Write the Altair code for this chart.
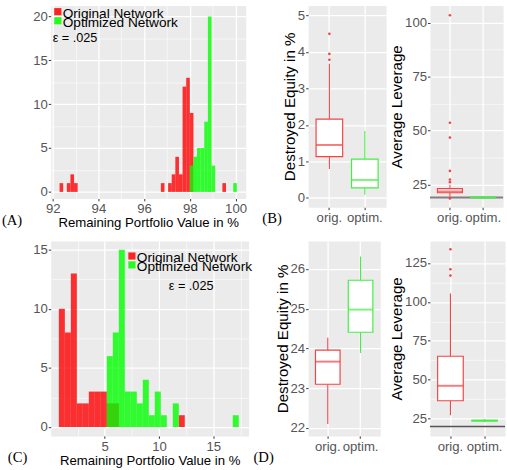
import altair as alt
import pandas as pd

SANS = "Liberation Sans"
SERIF = "Liberation Serif"

# ---------------- data ----------------
SERIES = ["Original Network", "Optimized Network"]
GROUPS = ["orig.", "optim."]
EPS_LABEL = "ε = .025"
HIST_X_TITLE = "Remaining Portfolio Value in %"
EQUITY_TITLE = "Destroyed Equity in %"
LEVERAGE_TITLE = "Average Leverage"
TAGS = ["(A)", "(B)", "(C)", "(D)"]

# (A) histogram: bin left edges and counts
A_BIN_WIDTH = 0.1583
a_orig_left = [92.300, 92.617, 92.775, 92.933, 96.732, 97.049, 97.207, 97.366,
               97.524, 97.682, 97.841, 97.999, 99.424]
a_orig_count = [1, 1, 2, 1, 1, 1, 2, 4, 2, 12, 13, 9, 1]
a_optim_left = [97.999, 98.157, 98.315, 98.474, 98.632, 98.790, 98.949, 99.898]
a_optim_count = [3, 4, 5, 5, 8, 20, 3, 1]

# (C) histogram
C_BIN_WIDTH = 0.552
c_orig_left = [0.780, 1.332, 1.884, 2.436, 2.988, 3.540, 4.092, 4.644, 5.196,
               5.748, 11.820]
c_orig_count = [10, 8, 13, 2, 2, 3, 3, 3, 2, 2, 1]
c_optim_left = [5.196, 5.748, 6.300, 6.852, 7.404, 7.956, 8.508, 9.060, 9.612,
                10.164, 11.268, 16.788]
c_optim_count = [6, 8, 15, 3, 3, 2, 4, 1, 3, 1, 2, 1]

# box plot summaries: lower whisker, q1, median, q3, upper whisker
STAT_KEYS = ["lo", "q1", "med", "q3", "hi"]
b_equity_orig = [0.79, 1.13, 1.45, 2.16, 3.68]
b_equity_optim = [0.08, 0.27, 0.49, 1.06, 1.83]
b_equity_orig_out = [3.79, 3.95, 4.50]
b_equity_optim_out = []
b_lev_orig = [19.5, 21.3, 21.9, 23.2, 25.0]
b_lev_optim = [19.0, 19.05, 19.1, 19.15, 19.2]
b_lev_orig_out = [18.7, 26.2, 27.4, 31.4, 46.8, 53.7, 103.4]
b_lev_optim_out = [19.1]
b_lev_ref = [19.1]

d_equity_orig = [22.10, 23.10, 23.67, 23.96, 24.27]
d_equity_optim = [23.89, 24.41, 24.98, 25.72, 26.32]
d_equity_orig_out = []
d_equity_optim_out = []
d_lev_orig = [27.1, 36.5, 46.1, 65.1, 105.4]
d_lev_optim = [23.4, 23.5, 23.7, 23.9, 24.0]
d_lev_orig_out = [116.9, 121.0, 133.8]
d_lev_optim_out = [23.7]
d_lev_ref = [20.0]

# ---------------- styles ----------------
BG = "#ebebeb"
HIST_RED = "#ff0000"
HIST_GREEN = "#00ff00"
BOX_RED = "#f24444"
BOX_GREEN = "#44ee44"
LABEL_GRAY = "#555555"


def qaxis(major, minor, title=None, title_size=13.5, title_pad=1):
    test = " || ".join(f"datum.value === {m}" for m in major)
    kw = dict(
        values=sorted(major + minor),
        labelExpr=f"({test}) ? datum.label : ''",
        format="d",
        grid=True, gridColor="white", gridOpacity=1,
        gridWidth={"condition": {"test": test, "value": 1.3}, "value": 0.6},
        tickOpacity={"condition": {"test": test, "value": 1}, "value": 0},
        tickColor="#333333", tickSize=2.5, tickWidth=1, domain=False,
        labelColor=LABEL_GRAY, labelFontSize=13.5, labelFont=SANS,
        labelPadding=1, labelFlush=False, labelOverlap=False,
    )
    if title:
        kw.update(title=title, titleFontSize=title_size, titleFont=SANS,
                  titleColor="black", titleFontWeight="normal",
                  titlePadding=title_pad)
    else:
        kw["title"] = None
    return alt.Axis(**kw)


def one_row():
    return alt.Chart(pd.DataFrame({"k": [0]}))


def text_mark(txt, x, y, size, font=SANS, align="left"):
    return one_row().mark_text(text=txt, font=font, fontSize=size, align=align,
                               baseline="alphabetic", color="black").encode(
        x=alt.value(x), y=alt.value(y))


def hist_panel(o_left, o_count, g_left, g_count, bw, xdom, ydom, xmaj, xmin,
               ymaj, ymin, w, h, leg, eps, tag, tag_xy):
    xs = alt.Scale(domain=xdom, nice=False, zero=False)
    ys = alt.Scale(domain=ydom, nice=False, zero=False)
    xa = qaxis(xmaj, xmin, HIST_X_TITLE)
    ya = qaxis(ymaj, ymin)
    layers = []
    for left, count, colr in [(o_left, o_count, HIST_RED), (g_left, g_count, HIST_GREEN)]:
        df = pd.DataFrame({"left": left, "count": count})
        df["right"] = df["left"] + bw
        df["base"] = 0
        layers.append(alt.Chart(df).mark_rect(color=colr, opacity=0.8).encode(
            x=alt.X("left:Q", scale=xs, axis=xa), x2="right:Q",
            y=alt.Y("count:Q", scale=ys, axis=ya), y2="base:Q"))
    sx, sy, tx, ty, step = leg
    for i, (name, colr) in enumerate(zip(SERIES, [HIST_RED, HIST_GREEN])):
        layers.append(one_row().mark_square(color=colr, opacity=0.85, size=54).encode(
            x=alt.value(sx), y=alt.value(sy + i * step)))
        layers.append(text_mark(name, tx, ty + i * step, 14))
    ex, ey, ealign = eps
    layers.append(text_mark(EPS_LABEL, ex, ey, 13, align=ealign))
    layers.append(text_mark(tag, tag_xy[0], tag_xy[1], 15, font=SERIF))
    return alt.layer(*layers).properties(width=w, height=h)


def box_panel(stats_o, stats_g, out_o, out_g, ref, ydom, ymaj, ymin, w, h,
              title, tag=None, tag_xy=None, ref_color="#666666", ref_width=1.6):
    rows = []
    for g, s in zip(GROUPS, [stats_o, stats_g]):
        d = {"group": g}
        d.update(dict(zip(STAT_KEYS, s)))
        rows.append(d)
    df = pd.DataFrame(rows)
    outs = pd.DataFrame({"group": [GROUPS[0]] * len(out_o) + [GROUPS[1]] * len(out_g),
                         "value": list(out_o) + list(out_g)})
    xs = alt.Scale(domain=GROUPS, paddingInner=0, paddingOuter=0.1)
    xa = alt.Axis(title=None, grid=True, gridColor="white", gridWidth=1.3,
                  bandPosition=0.5, domain=False, labelAngle=0,
                  tickColor="#333333", tickSize=2.5, labelColor=LABEL_GRAY,
                  labelFontSize=13.5, labelFont=SANS, labelPadding=1)
    ys = alt.Scale(domain=ydom, nice=False, zero=False)
    ya = qaxis(ymaj, ymin, title, 15.5, 0)
    cs = alt.Scale(domain=GROUPS, range=[BOX_RED, BOX_GREEN])
    X = alt.X("group:N", scale=xs, axis=xa, sort=GROUPS)
    col = alt.Color("group:N", scale=cs, legend=None)
    layers = []
    if ref:
        layers.append(alt.Chart(pd.DataFrame({"ref": ref})).mark_rule(
            color=ref_color, strokeWidth=ref_width).encode(
            y=alt.Y("ref:Q", scale=ys, axis=ya)))
    base = alt.Chart(df)
    layers.append(base.mark_rule(strokeWidth=1.1).encode(
        x=X, y=alt.Y("lo:Q", scale=ys, axis=ya), y2="q1:Q", color=col))
    layers.append(base.mark_rule(strokeWidth=1.1).encode(
        x=X, y=alt.Y("q3:Q", scale=ys, axis=ya), y2="hi:Q", color=col))
    layers.append(base.mark_bar(fill="white", strokeWidth=1.2,
                                width=alt.RelativeBandSize(0.75)).encode(
        x=X, y=alt.Y("q1:Q", scale=ys, axis=ya), y2="q3:Q",
        stroke=alt.Stroke("group:N", scale=cs, legend=None)))
    layers.append(base.mark_tick(thickness=2, size=0.75 * w / 2.2).encode(
        x=X, y=alt.Y("med:Q", scale=ys, axis=ya), color=col))
    if len(outs):
        layers.append(alt.Chart(outs).mark_circle(size=7, opacity=1).encode(
            x=X, y=alt.Y("value:Q", scale=ys, axis=ya), color=col))
    if tag:
        layers.append(text_mark(tag, tag_xy[0], tag_xy[1], 15, font=SERIF))
    return alt.layer(*layers).properties(width=w, height=h)


def spacer(w):
    return one_row().mark_point(opacity=0, size=1, filled=True).encode(
        x=alt.value(w / 2), y=alt.value(5)).properties(
        width=w, height=10,
        view=alt.ViewBackground(fill="transparent", stroke="transparent"))


panel_a = hist_panel(a_orig_left, a_orig_count, a_optim_left, a_optim_count, A_BIN_WIDTH,
                     [91.912, 100.444], [-0.75, 21.25], [92, 94, 96, 98, 100], [93, 95, 97, 99],
                     [0, 5, 10, 15, 20], [2.5, 7.5, 12.5, 17.5], 200, 198,
                     (7.3, 6.4, 12.3, 12.6, 9.3), (2, 38, "left"), TAGS[0], (-50, 225))
panel_c = hist_panel(c_orig_left, c_orig_count, c_optim_left, c_optim_count, C_BIN_WIDTH,
                     [0.03, 18.25], [-0.75, 15.75], [5, 10, 15], [2.5, 7.5, 12.5, 17.5],
                     [0, 5, 10, 15], [2.5, 7.5, 12.5], 203, 200,
                     (83.3, 15.5, 88.3, 21.7, 9.1), (144, 50, "center"), TAGS[2], (-44, 227))

panel_b1 = box_panel(b_equity_orig, b_equity_optim, b_equity_orig_out, b_equity_optim_out,
                     None, [-0.26, 5.28], [0, 1, 2, 3, 4, 5], [0.5, 1.5, 2.5, 3.5, 4.5],
                     80, 207, EQUITY_TITLE, TAGS[1], (-47, 223))
panel_b2 = box_panel(b_lev_orig, b_lev_optim, b_lev_orig_out, b_lev_optim_out,
                     b_lev_ref, [14.6, 107.9], [25, 50, 75, 100], [37.5, 62.5, 87.5],
                     75, 207, LEVERAGE_TITLE, ref_color="#808080", ref_width=2.2)
panel_d1 = box_panel(d_equity_orig, d_equity_optim, d_equity_orig_out, d_equity_optim_out,
                     None, [21.8, 26.71], [22, 23, 24, 25, 26], [22.5, 23.5, 24.5, 25.5, 26.5],
                     74, 200, EQUITY_TITLE, TAGS[3], (-56, 227))
panel_d2 = box_panel(d_lev_orig, d_lev_optim, d_lev_orig_out, d_lev_optim_out,
                     d_lev_ref, [13.9, 139.2], [25, 50, 75, 100, 125],
                     [37.5, 62.5, 87.5, 112.5], 77, 200, LEVERAGE_TITLE,
                     ref_color="#555555", ref_width=1.5)

chart = alt.concat(
    spacer(7), panel_a, spacer(54), panel_b1, spacer(45), panel_b2,
    spacer(1), panel_c, spacer(61), panel_d1, spacer(45), panel_d2,
    columns=6, align={"row": "each", "column": "none"}, bounds="flush",
    center=False, spacing={"row": 34.5, "column": 0},
).properties(
    padding={"left": 1, "top": -1.5, "right": 0, "bottom": 0}
).configure(font=SANS).configure_view(fill=BG, stroke="transparent")

chart.save("out.html", embed_options={"renderer": "svg", "actions": False})
